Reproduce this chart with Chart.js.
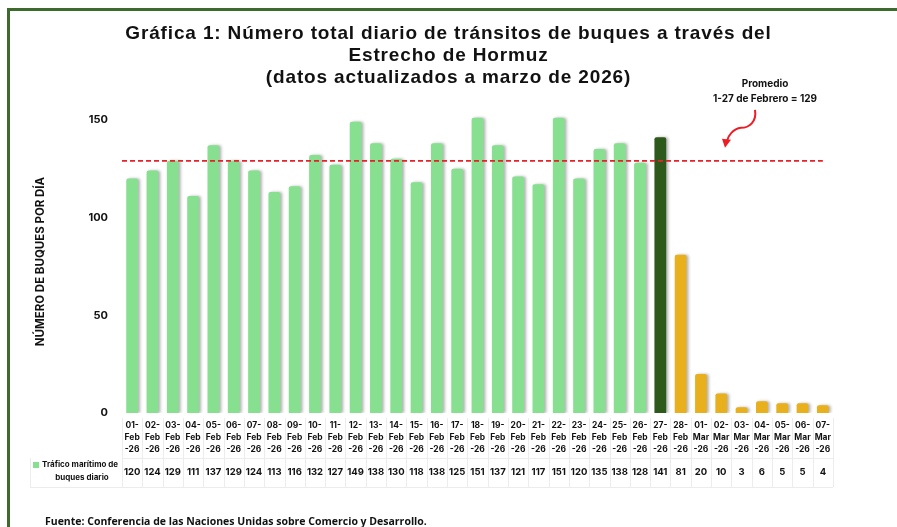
<!DOCTYPE html>
<html lang="es">
<head>
<meta charset="utf-8">
<script src="https://cdn.jsdelivr.net/npm/chart.js@4"></script>
<style>
  html, body { margin: 0; padding: 0; background: #fff; }
  body { width: 897px; height: 527px; position: relative; overflow: hidden; }
  .marco {
    position: absolute; left: 7px; top: 8px; right: -10px; bottom: -10px;
    border-top: 3px solid #3d6b2d; border-left: 3px solid #3d6b2d;
  }
  #titulo {
    position: absolute; left: 0; top: 22px; width: 897px; text-align: center;
    font: bold 19px "Liberation Sans", Arial, sans-serif; letter-spacing: 0.85px;
    line-height: 22px; color: #111;
  }
  #fuente {
    position: absolute; left: 45px; top: 514px; white-space: nowrap;
    font: bold 10.5px "Open Sans", sans-serif; color: #111;
  }
  #grafica { position: absolute; left: 0; top: 0; width: 897px; height: 527px; }
</style>
</head>
<body>
<div class="marco"></div>
<div id="grafica"><canvas id="tránsitos"></canvas></div>
<div id="titulo">Gráfica 1: Número total diario de tránsitos de buques a través del<br>Estrecho de Hormuz<br>(datos actualizados a marzo de 2026)</div>
<div id="fuente">Fuente: Conferencia de las Naciones Unidas sobre Comercio y Desarrollo.</div>
<script>
// días del periodo (febrero y primeros días de marzo de 2026)
const dias = ['01', '02', '03', '04', '05', '06', '07', '08', '09', '10', '11', '12', '13', '14',
  '15', '16', '17', '18', '19', '20', '21', '22', '23', '24', '25', '26', '27', '28',
  '01', '02', '03', '04', '05', '06', '07'];
const meses = ['Feb', 'Feb', 'Feb', 'Feb', 'Feb', 'Feb', 'Feb', 'Feb', 'Feb', 'Feb', 'Feb', 'Feb', 'Feb', 'Feb',
  'Feb', 'Feb', 'Feb', 'Feb', 'Feb', 'Feb', 'Feb', 'Feb', 'Feb', 'Feb', 'Feb', 'Feb', 'Feb', 'Feb',
  'Mar', 'Mar', 'Mar', 'Mar', 'Mar', 'Mar', 'Mar'];
// tránsitos diarios de buques
const traficoDiario = [120, 124, 129, 111, 137, 129, 124, 113, 116, 132, 127, 149, 138, 130,
  118, 138, 125, 151, 137, 121, 117, 151, 120, 135, 138, 128, 141, 81,
  20, 10, 3, 6, 5, 5, 4];
const promedio = 129;   // promedio 1-27 de febrero
const ticksY = [0, 50, 100, 150];

const etiquetas = dias.map((d, i) => [d + '-', meses[i], '-26']);
const colores = traficoDiario.map((v, i) => i < 26 ? '#86e08f' : (i === 26 ? '#2d5a1b' : '#e9b01d'));

const fuenteNegrita = 'Inter, "Noto Sans", sans-serif';

// sombra suave a la derecha de las barras
const sombra = {
  id: 'sombra',
  beforeDatasetDraw(chart) {
    const c = chart.ctx;
    c.save();
    c.shadowColor = 'rgba(0,0,0,0.3)';
    c.shadowBlur = 3;
    c.shadowOffsetX = 2;
  },
  afterDatasetDraw(chart) { chart.ctx.restore(); }
};

// línea del promedio con su nota y flecha
const lineaPromedio = {
  id: 'lineaPromedio',
  afterDatasetsDraw(chart) {
    const { ctx, chartArea, scales: { x, y } } = chart;
    const yy = y.getPixelForValue(promedio);
    ctx.save();
    ctx.strokeStyle = '#e8202a';
    ctx.lineWidth = 1.6;
    ctx.setLineDash([5, 3]);
    ctx.beginPath();
    ctx.moveTo(chartArea.left, yy);
    ctx.lineTo(x.getPixelForValue(traficoDiario.length - 1), yy);
    ctx.stroke();
    ctx.setLineDash([]);

    ctx.fillStyle = '#111';
    ctx.font = 'bold 10px ' + fuenteNegrita;
    ctx.textAlign = 'center';
    ctx.textBaseline = 'middle';
    ctx.fillText('Promedio', 765, yy - 77);
    ctx.fillText('1-27 de Febrero = ' + promedio, 765, yy - 62);

    // flecha curva
    ctx.strokeStyle = '#ee1c24';
    ctx.fillStyle = '#ee1c24';
    ctx.lineWidth = 2;
    ctx.beginPath();
    ctx.moveTo(755, yy - 51);
    ctx.bezierCurveTo(757, yy - 39, 749, yy - 33, 741, yy - 33);
    ctx.bezierCurveTo(733, yy - 32, 728, yy - 25, 727, yy - 20);
    ctx.stroke();
    ctx.beginPath();
    ctx.moveTo(722, yy - 22);
    ctx.lineTo(731, yy - 21);
    ctx.lineTo(725, yy - 13);
    ctx.closePath();
    ctx.fill();
    ctx.restore();
  }
};

// tabla de datos bajo el eje x
const tablaDatos = {
  id: 'tablaDatos',
  afterDraw(chart) {
    const { ctx, chartArea, scales: { x } } = chart;
    const n = traficoDiario.length;
    const paso = (chartArea.right - chartArea.left) / n;
    const y0 = chartArea.bottom + 5, y1 = chartArea.bottom + 45, y2 = chartArea.bottom + 74;
    ctx.save();
    ctx.strokeStyle = '#ececec';
    ctx.lineWidth = 1;
    ctx.beginPath();
    for (let i = 0; i <= n; i++) {
      const xx = Math.round(chartArea.left + i * paso) + 0.5;
      ctx.moveTo(xx, y0);
      ctx.lineTo(xx, y2);
    }
    ctx.moveTo(chartArea.left, y1 + 0.5);
    ctx.lineTo(chartArea.right, y1 + 0.5);
    ctx.moveTo(30, y2 + 0.5);
    ctx.lineTo(chartArea.right, y2 + 0.5);
    ctx.moveTo(30.5, y1);
    ctx.lineTo(30.5, y2);
    ctx.stroke();

    ctx.fillStyle = '#111';
    ctx.font = 'bold 9.5px ' + fuenteNegrita;
    ctx.textAlign = 'center';
    ctx.textBaseline = 'middle';
    traficoDiario.forEach((v, i) => ctx.fillText(String(v), x.getPixelForValue(i), chartArea.bottom + 59));

    // leyenda de la serie
    ctx.fillStyle = '#86e08f';
    ctx.fillRect(33, chartArea.bottom + 49, 6, 6);
    ctx.fillStyle = '#111';
    ctx.font = 'bold 8px ' + fuenteNegrita;
    ctx.textAlign = 'left';
    ctx.fillText('Tráfico marítimo de', 42, chartArea.bottom + 52);
    ctx.textAlign = 'center';
    ctx.fillText('buques diario', 82, chartArea.bottom + 65);
    ctx.restore();
  }
};

new Chart(document.getElementById('tránsitos'), {
  type: 'bar',
  data: {
    labels: etiquetas,
    datasets: [{
      label: 'Tráfico marítimo de buques diario',
      data: traficoDiario,
      backgroundColor: colores,
      borderRadius: { topLeft: 2, topRight: 2 },
      borderSkipped: 'bottom',
      categoryPercentage: 1,
      barPercentage: 0.58
    }]
  },
  options: {
    responsive: true,
    maintainAspectRatio: false,
    animation: false,
    layout: { padding: { left: 20, top: 110, right: 64, bottom: 69 } },
    plugins: {
      legend: { display: false },
      title: { display: false },
      tooltip: { enabled: false }
    },
    scales: {
      x: {
        grid: { display: false, drawTicks: false },
        border: { display: false },
        ticks: {
          autoSkip: false, maxRotation: 0, padding: 6,
          color: '#111',
          font: { family: fuenteNegrita, size: 8.5, weight: 'bold', lineHeight: 1.45 }
        },
        afterFit(s) { s.height = 45; }
      },
      y: {
        min: 0, max: 155,
        grid: { display: false, drawTicks: false },
        border: { display: false },
        afterBuildTicks(s) { s.ticks = ticksY.map(v => ({ value: v })); },
        ticks: {
          padding: 14, color: '#111',
          font: { family: fuenteNegrita, size: 11, weight: 'bold' }
        },
        title: {
          display: true, text: 'NÚMERO DE BUQUES POR DÍA', color: '#111',
          font: { family: fuenteNegrita, size: 11.5, weight: 'bold' },
          padding: { top: 14, bottom: 0 }
        },
        afterFit(s) { s.width = 102; }
      }
    }
  },
  plugins: [sombra, lineaPromedio, tablaDatos]
});
</script>
</body>
</html>
